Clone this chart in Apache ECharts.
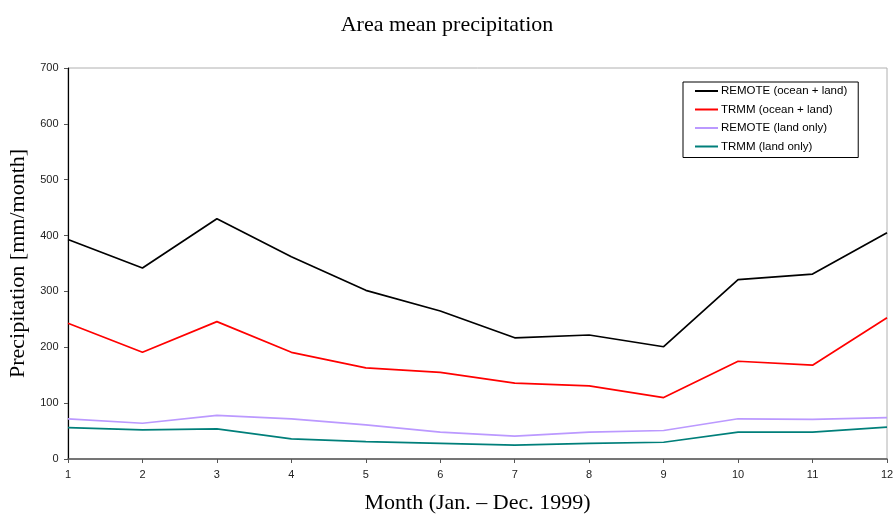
<!DOCTYPE html>
<html>
<head>
<meta charset="utf-8">
<script src="https://cdn.jsdelivr.net/npm/echarts@6/dist/echarts.min.js"></script>
<style>html,body{margin:0;padding:0;background:#fff}#c{width:894px;height:515px}</style>
</head>
<body>
<div id="c"></div>
<script>
var months = ['1','2','3','4','5','6','7','8','9','10','11','12'];
var remoteAll = [393, 342, 430, 362, 302, 265, 217, 222, 201, 321, 331, 405];
var trmmAll = [243, 191, 246, 191, 163, 155, 136, 131, 110, 175, 168, 253];
var remoteLand = [72, 64, 78, 72, 61, 48, 41, 48, 51, 72, 71, 74];
var trmmLand = [56, 52, 54, 36, 31, 28, 25, 28, 30, 48, 48, 57];
var yTicks = [0, 100, 200, 300, 400, 500, 600, 700];

var chart = echarts.init(document.getElementById('c'), null, {renderer: 'canvas'});
function s(name, data, color) {
  return {name: name, type: 'line', data: data, symbol: 'none', smooth: false,
    lineStyle: {color: color, width: 1.7}, itemStyle: {color: color}};
}
chart.setOption({
  animation: false,
  backgroundColor: '#fff',
  title: {text: 'Area mean precipitation', left: 'center', top: 9,
    textStyle: {fontFamily: 'Liberation Serif', fontSize: 22, fontWeight: 'normal', color: '#000'}},
  grid: {left: 68, right: 7, top: 68, bottom: 56, containLabel: false, outerBoundsMode: 'none',
    show: true, borderColor: '#b0b0b0', borderWidth: 1},
  legend: {orient: 'vertical', left: 683, top: 82, icon: 'rect', itemWidth: 23, itemHeight: 2,
    itemGap: 4.5, padding: [2, 11, 4, 12], borderColor: '#000', borderWidth: 1, backgroundColor: '#fff',
    textStyle: {fontFamily: 'Liberation Sans', fontSize: 11.5, color: '#000', lineHeight: 14, padding: [0,0,0,-2]},
    data: ['REMOTE (ocean + land)', 'TRMM (ocean + land)', 'REMOTE (land only)', 'TRMM (land only)']},
  xAxis: {type: 'category', data: months, boundaryGap: false,
    name: 'Month (Jan. – Dec. 1999)', nameLocation: 'middle', nameGap: 33,
    nameTextStyle: {fontFamily: 'Liberation Serif', fontSize: 22, color: '#000'},
    axisLine: {lineStyle: {color: '#555', width: 1.5}},
    axisTick: {show: true, length: 4, alignWithLabel: true, lineStyle: {color: '#555'}},
    axisLabel: {fontFamily: 'Liberation Sans', fontSize: 11, color: '#222', margin: 10},
    splitLine: {show: false}},
  yAxis: {type: 'value', min: 0, max: 700, interval: 100,
    name: 'Precipitation [mm/month]', nameLocation: 'middle', nameGap: 39,
    nameTextStyle: {fontFamily: 'Liberation Serif', fontSize: 22, color: '#000'},
    axisLine: {show: true, lineStyle: {color: '#000', width: 1.2}},
    axisTick: {show: true, length: 4, lineStyle: {color: '#555'}},
    axisLabel: {fontFamily: 'Liberation Sans', fontSize: 11, color: '#222', margin: 9.5,
      formatter: function (v) { return yTicks.indexOf(v) >= 0 ? String(v) : ''; }},
    splitLine: {show: false}},
  series: [
    s('REMOTE (ocean + land)', remoteAll, '#000000'),
    s('TRMM (ocean + land)', trmmAll, '#ff0000'),
    s('REMOTE (land only)', remoteLand, '#bb99ff'),
    s('TRMM (land only)', trmmLand, '#007f7a')
  ]
});
</script>
</body>
</html>
